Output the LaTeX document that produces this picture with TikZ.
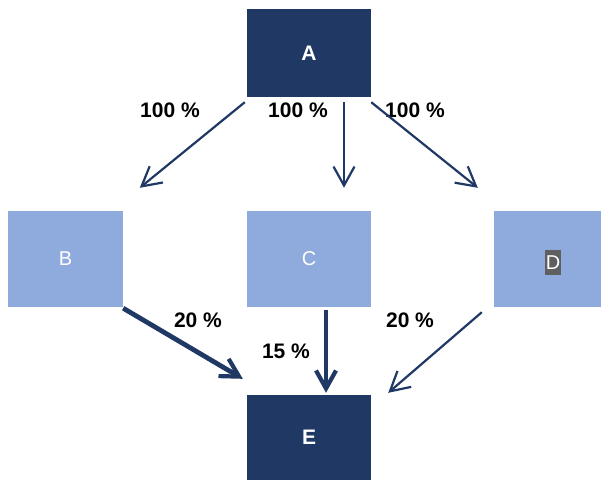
\documentclass[tikz,border=0pt]{standalone}
\usepackage{fontspec}
\setmainfont{Liberation Sans}
\usetikzlibrary{arrows.meta}
\definecolor{navy}{HTML}{1F3864}
\definecolor{lightblue}{HTML}{8FAADC}
\definecolor{graybg}{HTML}{5F5F5F}
\tikzset{
  darkbox/.style={fill=navy, draw=none, text=white, font=\fontsize{21}{24}\selectfont\bfseries, inner sep=0pt},
  lightbox/.style={fill=lightblue, draw=none, text=white, font=\fontsize{20}{23}\selectfont, inner sep=0pt},
  pct/.style={font=\fontsize{21}{24}\selectfont\bfseries, text=black, inner sep=0pt},
  thinarrow/.style={draw=navy, line width=2.2pt, -{Straight Barb[length=19pt,width=21pt,line width=2.2pt]}},
  thickarrow/.style={draw=navy, line width=4.8pt, -{Straight Barb[length=18pt,width=20pt,line width=4.2pt]}}
}
\begin{document}
\begin{tikzpicture}[x=1pt,y=1pt]
\useasboundingbox (0,0) rectangle (601,-480);
\node[darkbox, minimum width=124pt, minimum height=88pt] (A) at (309,-53) {A};
\node[lightbox, minimum width=115pt, minimum height=96pt] (B) at (65.5,-259) {B};
\node[lightbox, minimum width=124pt, minimum height=96pt] (C) at (309,-259) {C};
\node[lightbox, minimum width=107pt, minimum height=96pt] (D) at (547.5,-259) {};
\node[fill=graybg, text=white, font=\fontsize{20}{23}\selectfont, inner xsep=1pt, minimum height=25pt] (Dl) at (553,-262.5) {D};
\node[darkbox, minimum width=124pt, minimum height=85pt] (E) at (309,-437.5) {E};

\node[pct] (L1) at (170,-110) {100 \%};
\node[pct] (L2) at (298,-110) {100 \%};
\node[pct] (L3) at (415,-110) {100 \%};
\node[pct] (L4) at (198,-320) {20 \%};
\node[pct] (L5) at (286,-351) {15 \%};
\node[pct] (L6) at (410,-320) {20 \%};

\draw[thinarrow] ([shift={(-2,-5)}]A.south west) -- ([shift={(132,23)}]B.north west);
\draw[thinarrow] ([shift={(35,-5)}]A.south) -- ([shift={(35,23)}]C.north);
\draw[thinarrow] ([shift={(0,-5)}]A.south east) -- ([shift={(-16,23)}]D.north west);
\draw[thickarrow] ([shift={(0,-1)}]B.south east) -- ([shift={(-4,16)}]E.north west);
\draw[thickarrow] ([shift={(17,-3)}]C.south) -- ([shift={(17,2)}]E.north);
\draw[thinarrow] ([shift={(-12,-5)}]D.south west) -- ([shift={(17,2)}]E.north east);
\end{tikzpicture}
\end{document}
